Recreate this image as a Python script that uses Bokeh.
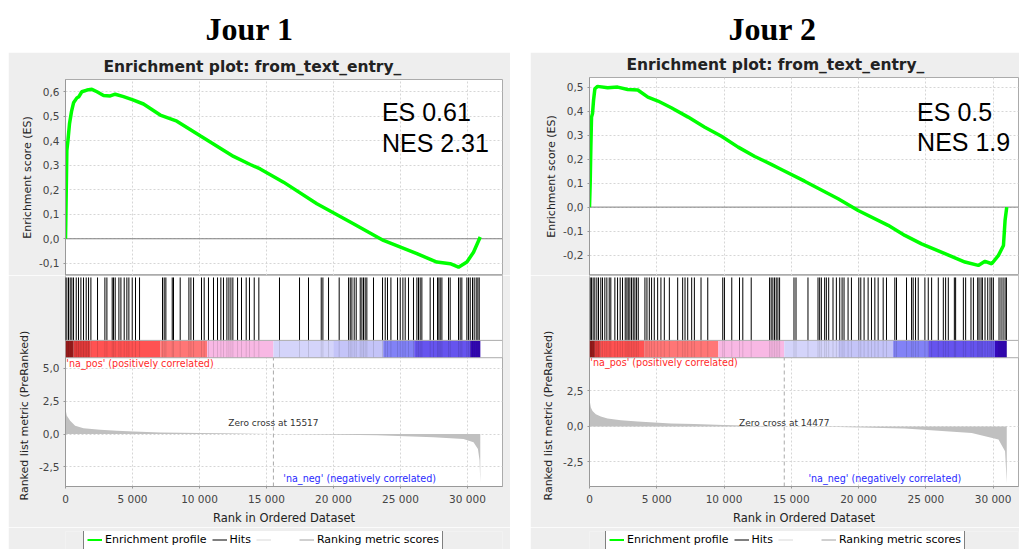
from bokeh.plotting import figure
from bokeh.layouts import column, row
from bokeh.models import (Range1d, FixedTicker, CustomJSTickFormatter, Span, Label,
                          Legend, LegendItem, Spacer, Title)
from bokeh.embed import file_html
from bokeh.resources import INLINE

# ---------------- data : Jour 1 ----------------
es_rank_j1 = [0, 20, 100, 180, 300, 450, 600, 850, 1000, 1220, 1600, 1970, 2350, 2840, 3340,
              3710, 4330, 5030, 5820, 7070, 8310, 10050, 12540, 13785, 14530, 16270, 18760,
              21250, 23730, 26225, 27715, 28710, 29330, 29955, 30450, 30950]
es_val_j1 = [0.0, 0.06, 0.36, 0.40, 0.47, 0.52, 0.555, 0.575, 0.58, 0.60, 0.607, 0.61, 0.60,
             0.585, 0.583, 0.59, 0.58, 0.567, 0.55, 0.505, 0.48, 0.42, 0.336, 0.303, 0.285,
             0.231, 0.143, 0.068, -0.007, -0.061, -0.095, -0.102, -0.116, -0.095, -0.055, 0.007]
hits_j1 = [0, 100, 225, 350, 475, 600, 800, 970, 1150, 1345, 1545, 1720, 1895, 2390, 2940,
           3090, 3485, 3585, 3710, 3985, 4135, 4380, 4580, 4730, 4980, 5225, 5525, 7240, 7365,
           7490, 7965, 8060, 8560, 9210, 9360, 9555, 10150, 10350, 10670, 11045, 11345, 11595,
           11790, 12045, 12195, 12345, 12490, 12840, 13135, 13485, 13730, 14085, 14430, 15970,
           17465, 18135, 19085, 19210, 19630, 20425, 21125, 21250, 21375, 21545, 21695, 21995,
           22120, 22240, 22365, 22490, 22985, 23660, 23860, 24030, 24285, 24780, 24980, 25180,
           25350, 25600, 25970, 26225, 26345, 26470, 26595, 27215, 27465, 27765, 27865, 27965,
           28090, 28585, 28710, 29330, 29455, 29580, 29955, 30080, 30205, 30375, 30500, 30650,
           30775, 30875]
metric_rank_j1 = [0, 100, 350, 720, 1345, 2590, 3840, 5090, 7070, 10050, 11790, 15517, 17760,
                  23240, 27460, 29700, 30450, 30780, 30900, 30955]
metric_val_j1 = [1.88, 1.38, 1.0, 0.63, 0.43, 0.33, 0.25, 0.2, 0.12, 0.08, 0.05, 0.0, -0.02,
                 -0.1, -0.25, -0.38, -0.63, -1.13, -2.0, -3.7]
bar_start_j1 = [0, 600, 1840, 7070, 10570, 15517, 19980, 23710, 26020, 30200]
bar_end_j1 = [600, 1840, 7070, 10570, 15517, 19980, 23710, 26020, 30200, 30960]
zero_cross_j1 = 15517
es_j1, nes_j1 = "ES 0.61", "NES 2.31"

# ---------------- data : Jour 2 ----------------
es_rank_j2 = [0, 50, 100, 150, 225, 300, 400, 600, 1350, 2090, 2840, 3590, 4340, 5090, 6080,
              7330, 8570, 9810, 11050, 12290, 13510, 14150, 15990, 18480, 19970, 22200, 23440,
              24680, 26420, 27910, 28900, 29400, 29900, 30400, 30770, 30890, 31015]
es_val_j2 = [0.0, 0.097, 0.25, 0.375, 0.39, 0.445, 0.493, 0.503, 0.497, 0.50, 0.49, 0.488,
             0.458, 0.442, 0.414, 0.375, 0.333, 0.295, 0.25, 0.211, 0.178, 0.16, 0.108, 0.035,
             -0.014, -0.076, -0.118, -0.153, -0.194, -0.229, -0.243, -0.226, -0.236, -0.201,
             -0.16, -0.055, 0.0]
hits_j2 = [50, 145, 270, 395, 545, 670, 840, 965, 1140, 1290, 1465, 1585, 1885, 2085, 2280,
           2455, 2655, 2780, 2880, 3000, 3125, 3250, 3375, 3500, 3625, 4120, 4270, 4445, 4615,
           4815, 5065, 5310, 5560, 5935, 6555, 6925, 7100, 7300, 7595, 7795, 8290, 8790, 9905,
           10030, 10575, 11150, 11395, 12020, 13385, 13505, 13630, 13755, 13880, 14005, 14130,
           15200, 15350, 16240, 16985, 17110, 17235, 17480, 17605, 17780, 18100, 18350, 18600,
           18775, 18920, 19220, 19470, 20015, 20165, 20410, 20710, 20960, 21210, 21455, 21830,
           22075, 22695, 22820, 23565, 23940, 24060, 24235, 24435, 24930, 25180, 25430, 25925,
           26300, 26470, 26670, 27120, 27215, 27790, 27960, 28355, 28535, 28855, 28955, 29105,
           29205, 29400, 29600, 29770, 29895, 30020, 30440, 30590, 30740, 30890, 30990]
metric_rank_j2 = [0, 100, 225, 470, 840, 1340, 2330, 3580, 4820, 6060, 7800, 10000, 14477,
                  18480, 23440, 28410, 30400, 30890, 31015]
metric_val_j2 = [1.9, 1.33, 1.09, 0.86, 0.70, 0.56, 0.44, 0.35, 0.28, 0.21, 0.17, 0.1, 0.0,
                 -0.04, -0.15, -0.46, -0.93, -1.75, -4.0]
bar_start_j2 = [0, 400, 840, 4070, 9580, 14477, 18480, 22570, 25180, 30140]
bar_end_j2 = [400, 840, 4070, 9580, 14477, 18480, 22570, 25180, 30140, 31015]
zero_cross_j2 = 14477
es_j2, nes_j2 = "ES 0.5", "NES 1.9"

bar_colors = ["#9c1c1c", "#e03a3a", "#ff5252", "#ff7676", "#f8b8e4", "#d4d4fa", "#c4c4f8",
              "#8282f6", "#6654ee", "#3408b8"]
x_ticks = [0, 5000, 10000, 15000, 20000, 25000, 30000]

FONT = "DejaVu Sans"
PANEL_BG = "#eeeeee"
GRID = "#d6d6d6"
EDGE = "#ababab"
NAN = float("nan")

X_FMT = r"return Math.round(tick).toString().replace(/\B(?=(\d{3})+(?!\d))/g, ' ');"
D_FMT = r"return tick.toFixed(1).replace('.', ',');"

# vertical layout of the hits strip inside the lower plot (fraction of that frame)
H_RANK_TOP = 0.6103   # boundary between colour bar and ranked-metric area
H_BAR_TOP = 0.6925    # top of the colour bar
H_HITS_TOP = 0.9906   # top of hit lines


def style_axis(ax, label, size="11px"):
    ax.axis_label = label
    ax.axis_label_text_font = FONT
    ax.axis_label_text_font_size = size
    ax.axis_label_text_font_style = "normal"
    ax.axis_label_text_color = "#222222"
    ax.axis_label_standoff = 2
    ax.major_label_text_font = FONT
    ax.major_label_text_font_size = "10.5px"
    ax.major_label_text_color = "#444444"
    ax.major_label_standoff = 4
    ax.axis_line_color = "#999999"
    ax.major_tick_line_color = "#999999"
    ax.major_tick_out = 2
    ax.major_tick_in = 0
    ax.minor_tick_line_color = None


def style_grid(p):
    for g in (p.xgrid, p.ygrid):
        g.grid_line_color = GRID
        g.grid_line_dash = "2 2"


def panel(W, mbl, mbr, jour, jour_cx, x_end, es_top, es_range, es_ticks, title_off,
          es_rank, es_val, es_txt, nes_txt, es_txt_x, es_txt_y, nes_txt_y,
          hits, bar_start, bar_end, rank_range, rank_vis_top, rank_ticks, m_rank, m_val,
          zero_cross, zc_y, pos_y, neg_x, neg_y, leg_x):
    xr = Range1d(0, x_end)
    common = dict(toolbar_location=None, output_backend="svg", min_border_left=mbl,
                  min_border_right=mbr)

    # ---- "Jour" heading (x in column pixels)
    pj = figure(width=W, height=52, x_range=Range1d(mbl, W - mbr), y_range=Range1d(0, 52),
                x_axis_location=None, y_axis_location=None, min_border_top=0,
                min_border_bottom=0, title=None, outline_line_color=None,
                background_fill_color="white", border_fill_color="white", **common)
    pj.grid.visible = False
    pj.add_layout(Label(x=jour_cx, y=24, text=jour, text_align="center",
                        text_baseline="middle", text_font="Liberation Serif",
                        text_font_size="32px", text_font_style="bold", text_color="black"))

    # ---- enrichment score plot
    pe = figure(width=W, height=223, x_range=xr, y_range=Range1d(*es_range),
                min_border_top=es_top, min_border_bottom=0, background_fill_color="white",
                border_fill_color=PANEL_BG, outline_line_color=EDGE,
                title=Title(text="Enrichment plot: from_text_entry_", align="left",
                            offset=title_off, vertical_align="top", standoff=4,
                            text_font=FONT, text_font_size="15.5px", text_font_style="bold",
                            text_color="#222222"),
                **common)
    pe.xaxis.visible = False
    pe.xaxis.ticker = FixedTicker(ticks=x_ticks)
    pe.xgrid.ticker = FixedTicker(ticks=x_ticks)
    pe.yaxis.ticker = FixedTicker(ticks=es_ticks)
    pe.yaxis.formatter = CustomJSTickFormatter(code=D_FMT)
    style_axis(pe.yaxis[0], "Enrichment score (ES)")
    style_grid(pe)
    pe.add_layout(Span(location=0, dimension="width", line_color="#808080", line_width=1,
                       level="underlay"))
    pe.line(es_rank, es_val, line_color="#00ff00", line_width=3.5)
    for t, yy in ((es_txt, es_txt_y), (nes_txt, nes_txt_y)):
        pe.add_layout(Label(x=es_txt_x, y=yy, text=t, text_baseline="middle",
                            text_font="Liberation Sans", text_font_size="25px",
                            text_color="black"))

    # ---- hits strip + ranked list metric (one frame, two vertical scales)
    pr = figure(width=W, height=252, x_range=xr, y_range=Range1d(*rank_range),
                min_border_top=0, min_border_bottom=39, title=None,
                background_fill_color="white", border_fill_color=PANEL_BG,
                outline_line_color=EDGE, **common)
    pr.extra_y_ranges = {"hits": Range1d(0, 1)}
    pr.xaxis.ticker = FixedTicker(ticks=x_ticks)
    pr.xaxis.formatter = CustomJSTickFormatter(code=X_FMT)
    pr.yaxis.ticker = FixedTicker(ticks=rank_ticks)
    pr.yaxis.formatter = CustomJSTickFormatter(code=D_FMT)
    pr.yaxis.bounds = (rank_range[0], rank_vis_top)
    style_axis(pr.xaxis[0], "Rank in Ordered Dataset", size="11.5px")
    pr.xaxis.axis_label_standoff = 3
    style_axis(pr.yaxis[0], None)
    pr.add_layout(Title(text="Ranked list metric (PreRanked)", align="left", offset=-14,
                        vertical_align="middle", standoff=10, text_font=FONT,
                        text_font_size="11px", text_font_style="normal",
                        text_color="#222222"), "left")
    style_grid(pr)

    pr.varea(x=m_rank, y1=0, y2=m_val, fill_color="#c0c0c0")
    pr.segment(x0=[zero_cross], x1=[zero_cross], y0=[0], y1=[H_RANK_TOP],
               y_range_name="hits", line_color="#aaaaaa", line_dash="4 3", line_width=1)
    # white strip hiding the grid behind hits / colour bar
    pr.quad(left=[0], right=[x_end], bottom=[H_RANK_TOP], top=[1], y_range_name="hits",
            fill_color="white", line_color=None)
    pr.quad(left=bar_start, right=bar_end, bottom=H_RANK_TOP, top=H_BAR_TOP,
            fill_color=bar_colors, line_color=None, y_range_name="hits")
    pr.segment(x0=hits, x1=hits, y0=H_RANK_TOP, y1=H_BAR_TOP, line_color="black",
               line_alpha=0.12, line_width=1, y_range_name="hits")
    pr.segment(x0=hits, x1=hits, y0=H_BAR_TOP, y1=H_HITS_TOP, line_color="black",
               line_width=1, y_range_name="hits")
    for loc in (H_RANK_TOP, H_BAR_TOP):
        pr.add_layout(Span(location=loc, dimension="width", line_color=EDGE, line_width=1,
                           y_range_name="hits"))

    pr.add_layout(Label(x=zero_cross, y=zc_y, text="Zero cross at %d" % zero_cross,
                        text_align="center", text_baseline="middle", text_font=FONT,
                        text_font_size="9px", text_color="#333333"))
    pr.add_layout(Label(x=60, y=pos_y, text="'na_pos' (positively correlated)",
                        text_baseline="middle", text_font=FONT, text_font_size="9.6px",
                        text_color="#ff2a2a"))
    pr.add_layout(Label(x=neg_x, y=neg_y, text="'na_neg' (negatively correlated)",
                        text_baseline="middle", text_font=FONT, text_font_size="9.6px",
                        text_color="#2a2aff"))

    # ---- legend strip
    pl = figure(width=W, height=22, x_range=Range1d(0, 1), y_range=Range1d(0, 1),
                x_axis_location=None, y_axis_location=None, min_border_top=4,
                min_border_bottom=0, title=None, outline_line_color=None,
                background_fill_color=PANEL_BG, border_fill_color=PANEL_BG, **common)
    pl.grid.visible = False
    r1 = pl.line([NAN], [NAN], line_color="#00ff00", line_width=2)
    r2 = pl.line([NAN], [NAN], line_color="black", line_width=1)
    r3 = pl.line([NAN], [NAN], line_color="#d8d8d8", line_width=1)
    r4 = pl.line([NAN], [NAN], line_color="#a0a0a0", line_width=1)
    legend = Legend(items=[LegendItem(label="Enrichment profile", renderers=[r1]),
                           LegendItem(label="Hits", renderers=[r2]),
                           LegendItem(label=" ", renderers=[r3]),
                           LegendItem(label="Ranking metric scores", renderers=[r4])],
                    orientation="horizontal", location=(leg_x, -1), glyph_width=15,
                    glyph_height=13, label_height=13, label_standoff=3, spacing=5,
                    padding=3, margin=0, border_line_color="black", border_line_width=1,
                    background_fill_color="white", background_fill_alpha=1,
                    label_text_font=FONT, label_text_font_size="11px",
                    label_text_color="black")
    pl.add_layout(legend)

    return column(pj, pe, pr, pl, spacing=0)


left = panel(W=502, mbl=57, mbr=8, jour="Jour 1", jour_cx=241, x_end=32613, es_top=27,
             es_range=(-0.15, 0.65), es_ticks=[-0.1, 0.0, 0.1, 0.2, 0.3, 0.4, 0.5, 0.6],
             title_off=38,
             es_rank=es_rank_j1, es_val=es_val_j1, es_txt=es_j1, nes_txt=nes_j1,
             es_txt_x=23613, es_txt_y=0.5155, nes_txt_y=0.391,
             hits=hits_j1, bar_start=bar_start_j1, bar_end=bar_end_j1,
             rank_range=(-3.99, 12.05), rank_vis_top=5.8, rank_ticks=[-2.5, 0.0, 2.5, 5.0],
             m_rank=metric_rank_j1, m_val=metric_val_j1, zero_cross=zero_cross_j1,
             zc_y=0.87, pos_y=5.35, neg_x=16250, neg_y=-3.39, leg_x=18)

right = panel(W=489, mbl=59, mbr=1, jour="Jour 2", jour_cx=242, x_end=31888, es_top=25,
              es_range=(-0.285, 0.54), es_ticks=[-0.2, -0.1, 0.0, 0.1, 0.2, 0.3, 0.4, 0.5],
              title_off=37,
              es_rank=es_rank_j2, es_val=es_val_j2, es_txt=es_j2, nes_txt=nes_j2,
              es_txt_x=24352, es_txt_y=0.397, nes_txt_y=0.27,
              hits=hits_j2, bar_start=bar_start_j2, bar_end=bar_end_j2,
              rank_range=(-4.24, 10.64), rank_vis_top=4.84, rank_ticks=[-2.5, 0.0, 2.5],
              m_rank=metric_rank_j2, m_val=metric_val_j2, zero_cross=zero_cross_j2,
              zc_y=0.27, pos_y=4.47, neg_x=16270, neg_y=-3.68, leg_x=16)

layout = row(Spacer(width=8, height=10), left, Spacer(width=20, height=10), right, spacing=0)
open("out.html", "w").write(file_html(layout, INLINE))
